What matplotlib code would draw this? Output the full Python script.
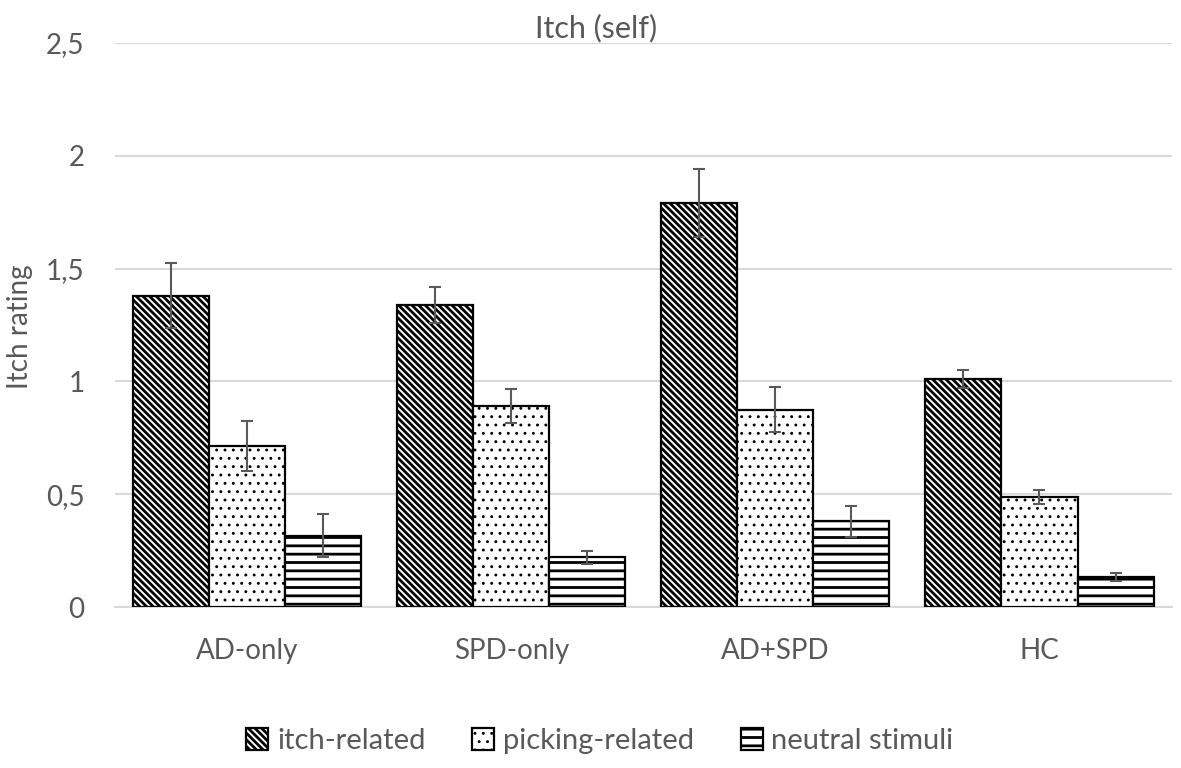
import matplotlib
matplotlib.use("Agg")
import matplotlib.pyplot as plt
import numpy as np

groups = ["AD-only", "SPD-only", "AD+SPD", "HC"]
series = ["itch-related", "picking-related", "neutral stimuli"]
itch_vals = [1.38, 1.34, 1.79, 1.01]
itch_err = [0.145, 0.08, 0.15, 0.04]
pick_vals = [0.715, 0.89, 0.875, 0.487]
pick_err = [0.11, 0.075, 0.10, 0.03]
neut_vals = [0.316, 0.22, 0.38, 0.134]
neut_err = [0.095, 0.03, 0.07, 0.018]
yticks = [0, 0.5, 1, 1.5, 2, 2.5]
ytick_labels = ["0", "0,5", "1", "1,5", "2", "2,5"]

plt.rcParams["font.family"] = ["Lato", "DejaVu Sans"]
plt.rcParams["hatch.linewidth"] = 2.0
plt.rcParams["hatch.color"] = "black"
txt = "#595959"
grid_c = "#d9d9d9"

fig = plt.figure(figsize=(11.81, 7.68), dpi=100)
ax = fig.add_axes([0.0974, 0.2096, 0.8946, 0.7344])

x = np.arange(len(groups))
w = 0.288
hatches = ["\\\\\\\\\\", "..", "--"]
hatch_lw = [2.0, 0.9, 2.0]
vals = [itch_vals, pick_vals, neut_vals]
errs = [itch_err, pick_err, neut_err]

for i in range(3):
    pos = x + (i - 1) * w
    bars = ax.bar(pos, vals[i], w, color="white", edgecolor="black", linewidth=1.6,
                  hatch=hatches[i], label=series[i], zorder=3)
    for b in bars:
        if hasattr(b, "set_hatch_linewidth"):
            b.set_hatch_linewidth(hatch_lw[i])
    ax.errorbar(pos, vals[i], yerr=errs[i], fmt="none", ecolor="#595959",
                elinewidth=1.5, capsize=4.5, capthick=1.5, zorder=4)

ax.set_xlim(-0.5, len(groups) - 0.5)
ax.set_ylim(0, 2.5)
ax.set_yticks(yticks)
ax.set_yticklabels(ytick_labels)
ax.set_xticks(x)
ax.set_xticklabels(groups)
ax.tick_params(axis="both", length=0, labelsize=20, colors=txt)
ax.tick_params(axis="x", pad=22)
ax.tick_params(axis="y", pad=22)
ax.yaxis.grid(True, color=grid_c, linewidth=1.5, zorder=0)
ax.set_axisbelow(True)
for s in ["top", "right", "left"]:
    ax.spines[s].set_visible(False)
ax.spines["bottom"].set_color(grid_c)
ax.spines["bottom"].set_linewidth(1.5)

fig.text(20 / 1181, 1 - 327 / 768, "Itch rating", rotation=90, ha="center", va="center",
         fontsize=20, color=txt)
fig.text(0.505, 0.964, "Itch (self)", ha="center", va="center", fontsize=22, color=txt)

leg = fig.legend(loc="center", bbox_to_anchor=(0.508, 0.035), ncol=3, frameon=False,
                 fontsize=21, handlelength=0.75, handleheight=0.75, columnspacing=1.6,
                 handletextpad=0.3)
for t in leg.get_texts():
    t.set_color(txt)
for h, lw in zip(leg.legend_handles, hatch_lw):
    if hasattr(h, "set_hatch_linewidth"):
        h.set_hatch_linewidth(lw)

fig.savefig("out.png", dpi=100)
